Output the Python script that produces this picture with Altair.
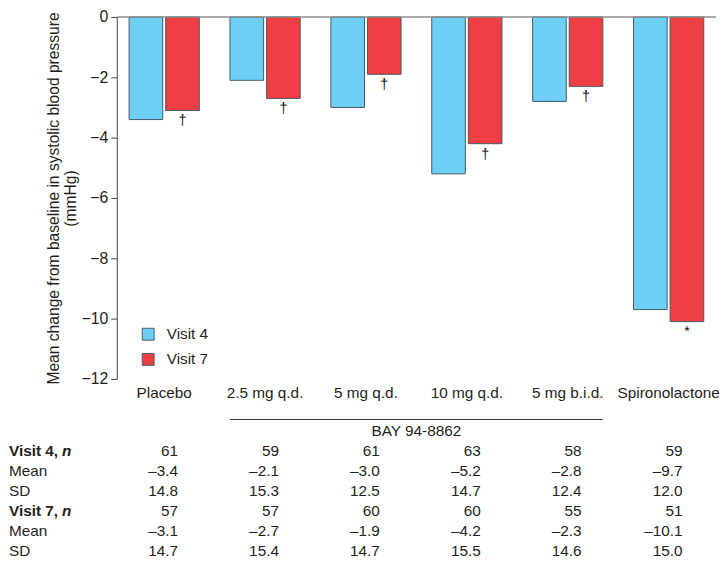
import altair as alt
import pandas as pd

categories = ["Placebo", "2.5 mg q.d.", "5 mg q.d.", "10 mg q.d.", "5 mg b.i.d.", "Spironolactone"]
series = ["Visit 4", "Visit 7"]
visit4_mean = [-3.4, -2.1, -3.0, -5.2, -2.8, -9.7]
visit7_mean = [-3.1, -2.7, -1.9, -4.2, -2.3, -10.1]
visit4_n = [61, 59, 61, 63, 58, 59]
visit4_sd = [14.8, 15.3, 12.5, 14.7, 12.4, 12.0]
visit7_n = [57, 57, 60, 60, 55, 51]
visit7_sd = [14.7, 15.4, 14.7, 15.5, 14.6, 15.0]
markers = ["†", "†", "†", "†", "†", "*"]
y_ticks = [0, -2, -4, -6, -8, -10, -12]
colors = ["#6dcff6", "#ef3e44"]

TXT = "#231f20"
FS = 15.5
W, H = 606, 366

bars_df = pd.DataFrame(
    [{"cat": c, "series": series[0], "value": v} for c, v in zip(categories, visit4_mean)]
    + [{"cat": c, "series": series[1], "value": v} for c, v in zip(categories, visit7_mean)]
)
ann_df = pd.DataFrame({"cat": categories, "series": series[1], "value": visit7_mean, "mark": markers})
one = pd.DataFrame({"k": [0]})

xscale = alt.Scale(domain=categories, paddingInner=0.304, paddingOuter=0.122)
xoff = alt.XOffset("series:N", scale=alt.Scale(domain=series, paddingInner=0.081, paddingOuter=0))

bars = alt.Chart(bars_df).mark_bar(stroke="#4a5a60", strokeWidth=1).encode(
    x=alt.X("cat:N", sort=categories, scale=xscale,
            axis=alt.Axis(title=None, domain=False, ticks=False, labelAngle=0, labelFontSize=FS,
                          labelPadding=7, labelColor=TXT)),
    xOffset=xoff,
    y=alt.Y("value:Q", scale=alt.Scale(domain=[-12, 0], nice=False),
            axis=alt.Axis(values=y_ticks, format="d", labelFontSize=16, labelColor=TXT, labelPadding=3,
                          tickSize=6, tickColor="#444", domainColor="#444", grid=False,
                          title=["Mean change from baseline in systolic blood pressure", "(mmHg)"],
                          titleFontSize=15.8, titleFontWeight="normal", titleColor=TXT,
                          titlePadding=3, titleLineHeight=17)),
    color=alt.Color("series:N", scale=alt.Scale(domain=series, range=colors),
                    legend=alt.Legend(title=None, orient="none", legendX=24, legendY=313,
                                      symbolType="square", symbolSize=144, symbolStrokeColor="#4a5a60",
                                      symbolStrokeWidth=1, symbolOpacity=1, labelFontSize=FS, labelColor=TXT,
                                      labelOffset=11, rowPadding=7.5, padding=0)),
)

zero = alt.Chart(one).mark_rule(color="#8c8c8c", strokeWidth=1.5).encode(
    y=alt.datum(0), x=alt.value(0), x2=alt.value(W)
)

ann = alt.Chart(ann_df).mark_text(baseline="top", dy=4, fontSize=14.5, color="#111").encode(
    x=alt.X("cat:N", sort=categories), xOffset=xoff, y="value:Q", text="mark:N"
)

bracket = alt.Chart(one).mark_rule(color="#333", strokeWidth=1, xOffset=-35.5, x2Offset=35.5).encode(
    x=alt.datum("2.5 mg q.d."), x2=alt.datum("5 mg b.i.d."), y=alt.value(407)
)
bay = alt.Chart(one).mark_text(text="BAY 94-8862", fontSize=FS, color=TXT, dx=51, baseline="middle").encode(
    x=alt.datum("5 mg q.d."), y=alt.value(419)
)

fmt = lambda v: f"{v:.1f}".replace("-", "–")
rows = [
    ("Visit 4, ", True, [str(v) for v in visit4_n]),
    ("Mean", False, [fmt(v) for v in visit4_mean]),
    ("SD", False, [fmt(v) for v in visit4_sd]),
    ("Visit 7, ", True, [str(v) for v in visit7_n]),
    ("Mean", False, [fmt(v) for v in visit7_mean]),
    ("SD", False, [fmt(v) for v in visit7_sd]),
]
row_y = [439, 459.2, 479.4, 499.6, 519.8, 540]

layers = [bars, zero, ann, bracket, bay]
for (label, bold, vals), yy in zip(rows, row_y):
    df = pd.DataFrame({"cat": categories, "txt": vals})
    layers.append(
        alt.Chart(df).mark_text(align="right", dx=14, baseline="middle", fontSize=FS, color=TXT).encode(
            x=alt.X("cat:N", sort=categories), y=alt.value(yy), text="txt:N"
        )
    )
    ldf = pd.DataFrame({"lab": [label]})
    layers.append(
        alt.Chart(ldf).mark_text(align="left", baseline="middle", fontSize=FS, color=TXT,
                                 fontWeight="bold" if bold else "normal").encode(
            x=alt.value(-109), y=alt.value(yy), text="lab:N"
        )
    )
    if bold:
        layers.append(
            alt.Chart(pd.DataFrame({"lab": ["n"]})).mark_text(
                align="left", baseline="middle", fontSize=FS, color=TXT, fontWeight="bold", fontStyle="italic"
            ).encode(x=alt.value(-55.5), y=alt.value(yy), text="lab:N")
        )

chart = alt.layer(*layers).properties(
    width=W, height=H,
    autosize=alt.AutoSizeParams(type="none"),
    padding={"left": 110, "top": 6, "right": 4, "bottom": 180},
).configure(font="Liberation Sans").configure_view(stroke=None)

chart.save("out.html", embed_options={"renderer": "svg", "actions": False})
